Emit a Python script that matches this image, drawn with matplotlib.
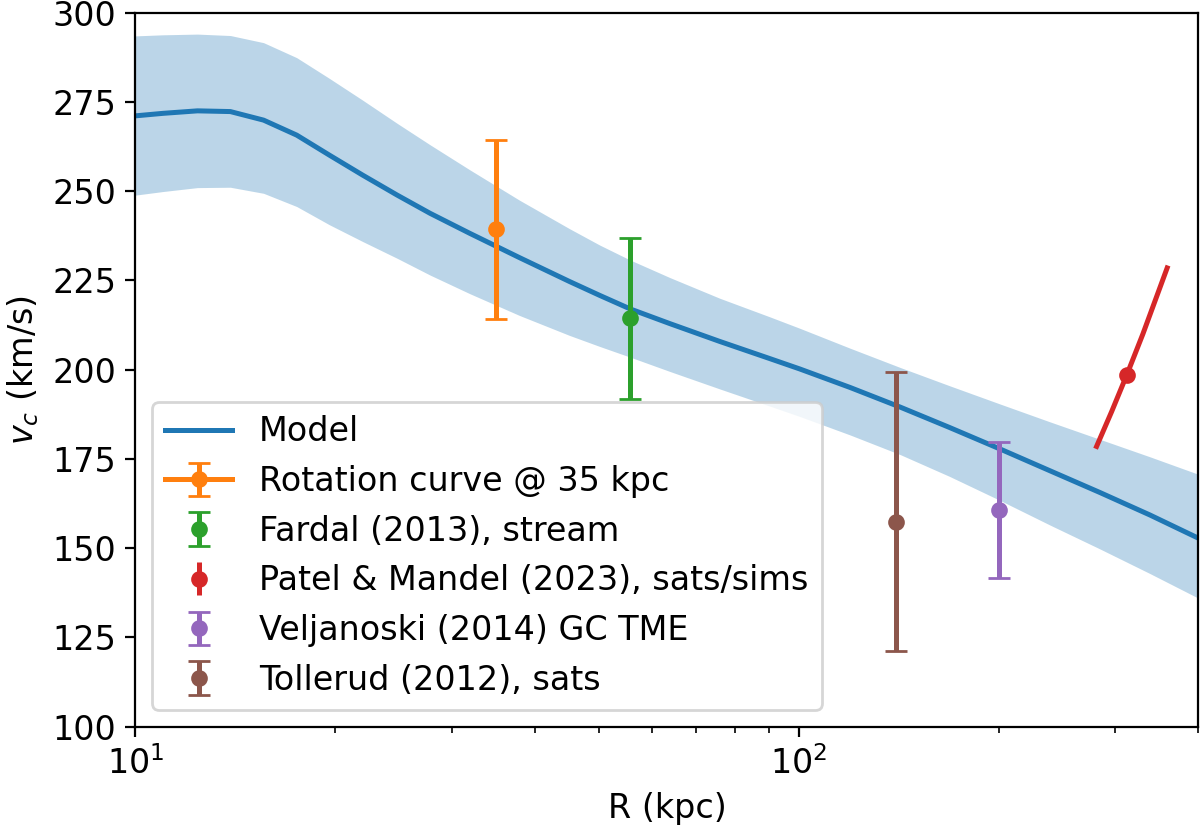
import numpy as np
import matplotlib
matplotlib.use('Agg')
import matplotlib.pyplot as plt

plt.rcParams['font.size'] = 12

# model curve and its band
R_model = [10, 11, 12.4, 13.9, 15.6, 17.5, 19.6, 22.0, 24.8, 27.8, 31.9, 37.9, 45.1, 50.1,
           55.7, 63.9, 76.0, 90.4, 100.3, 119.5, 142.2, 168.7, 200.9, 238.9, 284.2, 338.1, 400]
v_model = [271.1, 271.8, 272.5, 272.3, 269.9, 265.7, 260.1, 254.5, 248.9, 243.8, 238.2, 231.4,
           224.7, 220.8, 217.0, 212.9, 207.9, 203.1, 200.2, 195.0, 189.5, 183.8, 177.8, 171.7,
           165.6, 159.3, 152.8]
v_upper = [293.5, 293.8, 294.0, 293.6, 291.6, 287.4, 281.6, 275.5, 269.0, 263.0, 256.0, 247.5,
           239.5, 234.9, 230.7, 225.8, 220.0, 214.8, 211.6, 206.0, 200.6, 195.5, 190.4, 185.4,
           180.5, 175.6, 170.7]
v_lower = [248.9, 249.9, 251.0, 251.1, 249.4, 245.7, 240.6, 235.9, 231.2, 226.5, 221.3, 215.2,
           209.6, 206.5, 203.5, 199.5, 194.6, 189.8, 186.9, 181.7, 176.2, 170.1, 163.4, 156.5,
           149.8, 142.9, 136.0]

# measurements
R_rc, v_rc, err_rc = 35, 239.3, 25.0
R_fardal, v_fardal, err_fardal = 55.7, 214.4, 22.5
R_patel, v_patel = 312, 198.5
R_patel_line = [281, 296, 312, 330, 359]
v_patel_line = [178.5, 188.2, 198.5, 210.0, 228.5]
R_velj, v_velj, err_velj = 200, 160.7, 19.0
R_toll, v_toll = 140, 157.4
err_toll_lo, err_toll_hi = 36.1, 42.0

fig = plt.figure(figsize=(6, 4.17), dpi=200)
ax = fig.add_axes([0.1129, 0.1287, 0.8857, 0.8561])

ax.fill_between(R_model, v_lower, v_upper, color='C0', alpha=0.3, lw=0)
ax.plot(R_model, v_model, color='C0', lw=1.8, label='Model')

ax.errorbar(R_rc, v_rc, yerr=err_rc, fmt='o-', color='C1', ms=5, lw=1.8,
            capsize=4, label='Rotation curve @ 35 kpc')
ax.errorbar(R_fardal, v_fardal, yerr=err_fardal, fmt='o', color='C2', ms=5, lw=1.8,
            capsize=4, label='Fardal (2013), stream')
ax.plot(R_patel_line, v_patel_line, color='C3', lw=1.8)
ax.errorbar(R_patel, v_patel, yerr=0, fmt='o', color='C3', ms=5, lw=1.8,
            capsize=0, label='Patel & Mandel (2023), sats/sims')
ax.errorbar(R_velj, v_velj, yerr=err_velj, fmt='o', color='C4', ms=5, lw=1.8,
            capsize=4, label='Veljanoski (2014) GC TME')
ax.errorbar(R_toll, v_toll, yerr=[[err_toll_lo], [err_toll_hi]], fmt='o', color='C5', ms=5,
            lw=1.8, capsize=4, label='Tollerud (2012), sats')

ax.set_xscale('log')
ax.set_xlim(10, 400)
ax.set_ylim(100, 300)
ax.set_yticks(np.arange(100, 301, 25))
ax.set_xlabel('R (kpc)')
ax.set_ylabel('$v_c$ (km/s)')
ax.legend(loc='lower left')

fig.savefig('out.png', dpi=200)
